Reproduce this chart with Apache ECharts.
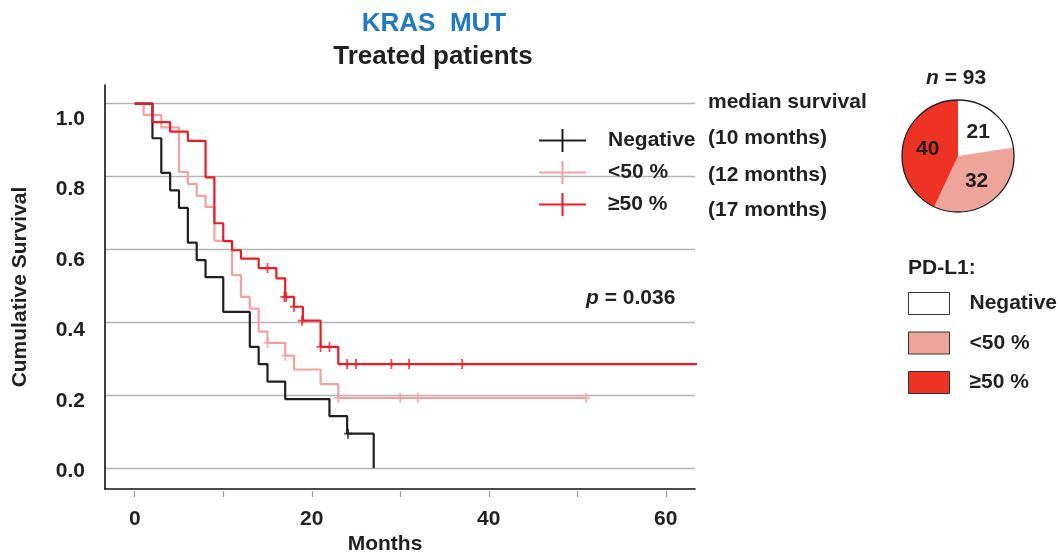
<!DOCTYPE html>
<html>
<head>
<meta charset="utf-8">
<script src="https://cdn.jsdelivr.net/npm/echarts@6/dist/echarts.min.js"></script>
<style>html,body{margin:0;padding:0;background:#fff}#c{width:1058px;height:560px}</style>
</head>
<body>
<div id="c"></div>
<script>
// ---- Kaplan-Meier data (months, cumulative survival) ----
const negTimes = [0, 2, 3, 4, 5, 6, 7, 8, 10, 13, 14, 15, 17, 22, 24, 27];
const negSurv  = [1, 0.905, 0.810, 0.762, 0.714, 0.619, 0.571, 0.524, 0.429, 0.333, 0.286, 0.238, 0.190, 0.143, 0.095, 0];
const negCensT = [24.1];
const negCensS = [0.095];

const lowTimes = [0, 1, 3, 5, 6, 7, 8, 9, 11, 12, 13, 14, 15, 17, 18, 21, 23, 51];
const lowSurv  = [1, 0.969, 0.935, 0.813, 0.780, 0.747, 0.717, 0.624, 0.530, 0.470, 0.438, 0.375, 0.344, 0.309, 0.271, 0.231, 0.193, 0.193];
const lowCensT = [15, 17, 23, 30, 32, 51];
const lowCensS = [0.344, 0.309, 0.193, 0.193, 0.193, 0.193];

const highTimes = [0, 2, 4, 6, 8, 9, 10, 11, 12, 14, 16, 17, 18, 19, 21, 23, 64];
const highSurv  = [1, 0.949, 0.923, 0.898, 0.798, 0.672, 0.623, 0.598, 0.575, 0.549, 0.521, 0.470, 0.443, 0.405, 0.333, 0.286, 0.286];
const highCensT = [15, 16.9, 17.1, 18, 18.9, 21, 22, 24, 25, 29, 31, 37];
const highCensS = [0.549, 0.470, 0.470, 0.443, 0.405, 0.333, 0.333, 0.286, 0.286, 0.286, 0.286, 0.286];

const groupNames = ['Negative', '<50 %', '\u226550 %'];
const medians = ['(10 months)', '(12 months)', '(17 months)'];

// ---- pie data ----
const pieNames = ['Negative', '<50 %', '\u226550 %'];
const pieValues = [21, 32, 40];

// ---- tick labels ----
const xTickValues = [0, 10, 20, 30, 40, 50, 60];
const xLabelValues = [0, 20, 40, 60];
const yTickValues = [0, 0.2, 0.4, 0.6, 0.8, 1.0];

const FONT = "'Liberation Sans', Arial, Helvetica, sans-serif";
const FS = 21;
const TXT = '#231f20';
const cBlack = '#231f20', cPink = '#f5a0a0', cRed = '#ed1c24';
const pieColors = ['#ffffff', '#eda49a', '#ee3224'];

function pts(t, s) { return t.map((v, i) => [v, s[i]]); }
const plusPath = 'path://M0,4.1h8v1.8h-8z M3.1,0h1.8v10h-1.8z';

const chart = echarts.init(document.getElementById('c'), null, {renderer: 'canvas'});

function txt(x, y, text, extra) {
  return Object.assign({type: 'text', x: x, y: y, style: Object.assign({text: text, fill: TXT, fontFamily: FONT, fontSize: FS, fontWeight: 'bold',
    align: 'left', verticalAlign: 'middle', textAlign: 'left', textVerticalAlign: 'middle'}, extra || {})});
}
const italicRich = {i: {fontStyle: 'italic', fontFamily: FONT, fontSize: FS, fontWeight: 'bold', fill: TXT}};

const option = {
  animation: false,
  backgroundColor: '#fff',
  grid: {left: 105, right: 363, top: 85, bottom: 64, containLabel: false},
  xAxis: [{
    type: 'value', min: -3.36, max: 63.3,
    axisLine: {show: true, onZero: false, lineStyle: {color: '#111', width: 1.6}},
    axisTick: {show: false}, axisLabel: {show: false}, splitLine: {show: false},
    name: 'Months', nameLocation: 'middle', nameGap: 45,
    nameTextStyle: {fontFamily: FONT, fontSize: FS, fontWeight: 'bold', color: TXT, padding: [0, 30, 0, 0]}
  }, {
    type: 'value', min: -3.36, max: 63.3, position: 'bottom', offset: 2,
    axisLine: {show: false, onZero: false},
    axisTick: {show: true, length: 6, customValues: xTickValues, lineStyle: {color: '#999', width: 1.2}},
    axisLabel: {show: true, customValues: xLabelValues, margin: 18, fontFamily: FONT, fontSize: FS, fontWeight: 'bold', color: TXT},
    splitLine: {show: false}
  }],
  yAxis: [{
    type: 'value', min: -0.0566, max: 1.051, position: 'left',
    axisLine: {show: true, onZero: false, lineStyle: {color: '#111', width: 1.6}},
    axisTick: {show: false, customValues: yTickValues},
    axisLabel: {show: false},
    splitLine: {show: true, lineStyle: {color: '#b4b4b4', width: 1.3}}
  }, {
    type: 'value', min: -0.050, max: 1.0956, position: 'left',
    axisLine: {show: false, onZero: false},
    axisTick: {show: false, customValues: yTickValues},
    splitLine: {show: false},
    axisLabel: {show: true, customValues: yTickValues, margin: 20, fontFamily: FONT, fontSize: FS, fontWeight: 'bold', color: TXT,
      formatter: v => v.toFixed(1)},
    name: 'Cumulative Survival', nameLocation: 'middle', nameGap: 74, nameRotate: 90,
    nameTextStyle: {fontFamily: FONT, fontSize: FS, fontWeight: 'bold', color: TXT}
  }],
  legend: [{
    data: groupNames,
    orient: 'vertical', left: 539, top: 129, padding: 0,
    itemWidth: 47, itemHeight: 23, itemGap: 9,
    icon: 'path://M0,10.5h47v2h-47z M22.5,0h2v23h-2z',
    itemStyle: {borderWidth: 0},
    textStyle: {fontFamily: FONT, fontSize: FS, fontWeight: 'bold', color: TXT, padding: [0, 0, 0, 17]},
    selectedMode: false
  }, {
    data: pieNames.map(n => 'PD-L1 ' + n),
    orient: 'vertical', left: 908, top: 292, padding: 0,
    itemWidth: 41, itemHeight: 22, itemGap: 16.5,
    icon: 'rect',
    itemStyle: {borderColor: '#333', borderWidth: 1},
    formatter: n => n.replace('PD-L1 ', ''),
    textStyle: {fontFamily: FONT, fontSize: FS, fontWeight: 'bold', color: TXT, padding: [0, 0, 0, 15]},
    selectedMode: false
  }],
  series: [
    {name: groupNames[1], type: 'line', step: 'end', data: pts(lowTimes, lowSurv), symbol: 'none', clip: true,
      color: cPink, lineStyle: {color: cPink, width: 2.2}, z: 2},
    {name: groupNames[0], type: 'line', step: 'end', data: pts(negTimes, negSurv), symbol: 'none', clip: true,
      color: cBlack, lineStyle: {color: cBlack, width: 2.2}, z: 3},
    {name: groupNames[2], type: 'line', step: 'end', data: pts(highTimes, highSurv), symbol: 'none', clip: true,
      color: cRed, lineStyle: {color: cRed, width: 2.2}, z: 4},
    {name: 'censor low', type: 'scatter', data: pts(lowCensT, lowCensS), symbol: plusPath, symbolSize: [8, 10],
      itemStyle: {color: cPink}, z: 5, silent: true},
    {name: 'censor neg', type: 'scatter', data: pts(negCensT, negCensS), symbol: plusPath, symbolSize: [8, 10],
      itemStyle: {color: cBlack}, z: 5, silent: true},
    {name: 'censor high', type: 'scatter', data: pts(highCensT, highCensS), symbol: plusPath, symbolSize: [8, 10],
      itemStyle: {color: cRed}, z: 6, silent: true},
    {name: 'PD-L1', type: 'pie', center: [958, 156], radius: 56, startAngle: 90, clockwise: true,
      data: pieNames.map((n, i) => ({name: 'PD-L1 ' + n, value: pieValues[i], itemStyle: {color: pieColors[i]}})),
      itemStyle: {borderWidth: 0},
      label: {show: true, position: 'inside', formatter: '{c}', fontFamily: FONT, fontSize: FS, fontWeight: 'bold', color: TXT},
      labelLine: {show: false}, emphasis: {disabled: true}, silent: true, z: 2},
    {name: 'outline', type: 'pie', center: [958, 156], radius: 56, data: [{name: 'outline', value: 1}],
      itemStyle: {color: 'rgba(0,0,0,0)', borderColor: '#231f20', borderWidth: 1.3},
      label: {show: false}, labelLine: {show: false}, emphasis: {disabled: true}, silent: true, z: 3}
  ],
  graphic: [
    txt(434, 24, 'KRAS  MUT', {fill: '#1f7ac2', fontSize: 26, align: 'center', textAlign: 'center'}),
    txt(433, 57, 'Treated patients', {fontSize: 26, align: 'center', textAlign: 'center'}),
    txt(708, 102, 'median survival'),
    txt(708, 138, medians[0]),
    txt(708, 175, medians[1]),
    txt(708, 210, medians[2]),
    txt(586, 298, '{i|p} = 0.036', {rich: italicRich}),
    txt(926, 78, '{i|n} = 93', {rich: italicRich}),
    txt(908, 268, 'PD-L1:')
  ]
};
chart.setOption(option);
</script>
</body>
</html>
